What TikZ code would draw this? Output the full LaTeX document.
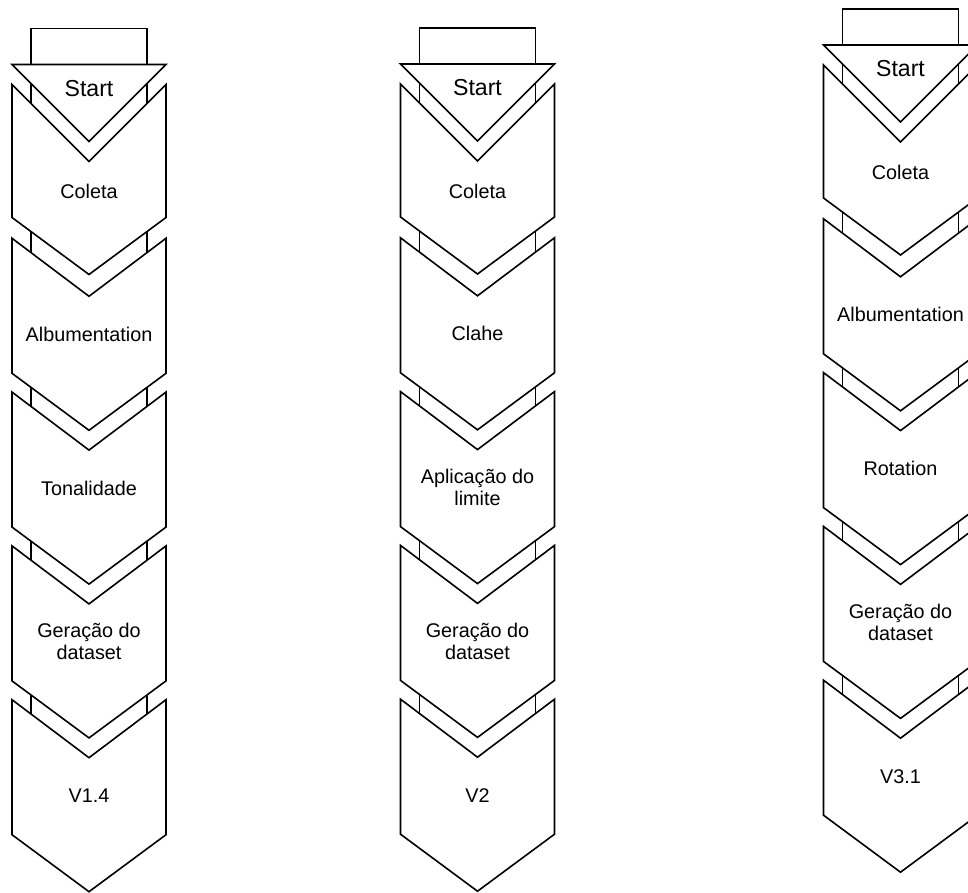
\documentclass[tikz,border=0pt]{standalone}
\usepackage{fontspec}
\setmainfont{Liberation Sans}

\begin{document}
\begin{tikzpicture}[x=1pt, y=-1pt, line width=1.6pt,
  band/.style = {draw, fill=white},
  chevron/.style = {draw, fill=white},
  steplabel/.style = {font=\fontsize{19.8}{22}\selectfont, align=center},
  startlabel/.style = {font=\fontsize{23.1}{26}\selectfont}]
\useasboundingbox (0,0) rectangle (968,893);

% one column per pipeline: centre x / top of the start box / name
\foreach \cx/\cy/\col in {89/28.5/a, 477.5/28/b, 900.5/9/c} {
  % strip running behind the arrows
  \draw[band] (\cx-58,\cy) rectangle (\cx+58,\cy+56+4*153.8+100);
  % start triangle
  \draw[chevron] (\cx-77,\cy+36) -- (\cx+77,\cy+36) -- (\cx,\cy+113) -- cycle;
  \coordinate (\col s) at (\cx,\cy+60);
  % first step has a deeper notch
  \draw[chevron] (\cx-77,\cy+56) -- (\cx,\cy+133) -- (\cx+77,\cy+56) -- (\cx+77,\cy+189)
    -- (\cx,\cy+246) -- (\cx-77,\cy+189) -- cycle;
  \coordinate (\col0) at (\cx,\cy+163);
  % the other steps
  \foreach \k in {1,...,4} {
    \pgfmathsetmacro\t{\cy+56+153.8*\k}
    \draw[chevron] (\cx-77,\t) -- (\cx,\t+58) -- (\cx+77,\t) -- (\cx+77,\t+135)
      -- (\cx,\t+192) -- (\cx-77,\t+135) -- cycle;
    \coordinate (\col\k) at (\cx,\t+96);
  }
}

% first pipeline
\node[startlabel] (startA) at (as) {Start};
\node[steplabel] (coletaA) at (a0) {Coleta};
\node[steplabel] (albA) at (a1) {Albumentation};
\node[steplabel] (tonA) at (a2) {Tonalidade};
\node[steplabel] (gerA) at (a3) {Geração do\\dataset};
\node[steplabel] (verA) at (a4) {V1.4};

% second pipeline
\node[startlabel] (startB) at (bs) {Start};
\node[steplabel] (coletaB) at (b0) {Coleta};
\node[steplabel] (claheB) at (b1) {Clahe};
\node[steplabel] (limB) at (b2) {Aplicação do\\limite};
\node[steplabel] (gerB) at (b3) {Geração do\\dataset};
\node[steplabel] (verB) at (b4) {V2};

% third pipeline
\node[startlabel] (startC) at (cs) {Start};
\node[steplabel] (coletaC) at (c0) {Coleta};
\node[steplabel] (albC) at (c1) {Albumentation};
\node[steplabel] (rotC) at (c2) {Rotation};
\node[steplabel] (gerC) at (c3) {Geração do\\dataset};
\node[steplabel] (verC) at (c4) {V3.1};
\end{tikzpicture}
\end{document}
